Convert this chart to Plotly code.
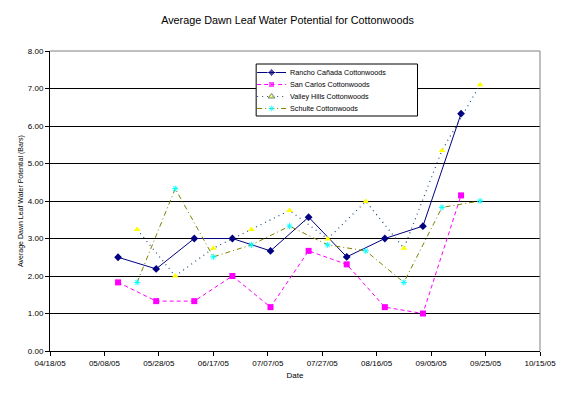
import plotly.graph_objects as go

dates_a = ["2005-05-13", "2005-05-27", "2005-06-10", "2005-06-24", "2005-07-08",
           "2005-07-22", "2005-08-05", "2005-08-19", "2005-09-02", "2005-09-16"]
dates_b = ["2005-05-20", "2005-06-03", "2005-06-17", "2005-07-01", "2005-07-15",
           "2005-07-29", "2005-08-12", "2005-08-26", "2005-09-09", "2005-09-23"]

rancho = [2.50, 2.19, 3.00, 3.00, 2.67, 3.57, 2.51, 3.00, 3.33, 6.33]
san_carlos = [1.83, 1.33, 1.33, 2.00, 1.17, 2.67, 2.31, 1.17, 1.00, 4.15]
valley_hills = [3.24, 2.00, 2.74, 3.24, 3.75, 2.99, 3.99, 2.74, 5.35, 7.10]
schulte = [1.83, 4.33, 2.51, 2.83, 3.33, 2.83, 2.67, 1.83, 3.83, 4.00]

series_names = ["Rancho Cañada Cottonwoods", "San Carlos Cottonwoods",
                "Valley Hills Cottonwoods", "Schulte Cottonwoods"]

y_ticks = [0, 1, 2, 3, 4, 5, 6, 7, 8]
y_tick_labels = ["0.00", "1.00", "2.00", "3.00", "4.00", "5.00", "6.00", "7.00", "8.00"]

FONT = "Liberation Sans, Arial, sans-serif"

styles = [
    dict(line=dict(color="#000080", width=1),
         marker=dict(symbol="diamond", size=6, color="#000080")),
    dict(line=dict(color="#FF00FF", width=1, dash="4px,3px"),
         marker=dict(symbol="square", size=6, color="#FF00FF")),
    dict(line=dict(color="#1F4E79", width=1.2, dash="1px,4px"),
         marker=dict(symbol="triangle-up", size=6, color="#FFFF00")),
    dict(line=dict(color="#808000", width=1, dash="5px,3px,1px,3px"),
         marker=dict(symbol="asterisk-open", size=5, color="#00FFFF",
                     line=dict(color="#00FFFF", width=1))),
]
xs = [dates_a, dates_a, dates_b, dates_b]
ys = [rancho, san_carlos, valley_hills, schulte]

fig = go.Figure()
for name, x, y, st in zip(series_names, xs, ys, styles):
    fig.add_trace(go.Scatter(x=x, y=y, name=name, mode="lines+markers",
                             line=st["line"], marker=st["marker"], showlegend=False))

# Compact legend (Excel-like) drawn on a hidden overlay axis in page-pixel units
PX0, PX1, PY0, PY1 = 48, 540, 351, 51          # plot-area edges on the page
leg_left, leg_right, leg_top, leg_bottom = 255, 417, 64, 116
row_y = [72.5, 84.5, 96.5, 108.5]
fig.add_trace(go.Scatter(
    x=[leg_left, leg_right, leg_right, leg_left, leg_left],
    y=[leg_top, leg_top, leg_bottom, leg_bottom, leg_top],
    mode="lines", fill="toself", fillcolor="white",
    line=dict(color="black", width=1), xaxis="x2", yaxis="y2",
    showlegend=False, hoverinfo="skip"))
for name, st, ry in zip(series_names, styles, row_y):
    fig.add_trace(go.Scatter(
        x=[256, 270.5, 285], y=[ry, ry, ry], mode="lines+markers",
        line=st["line"], marker=dict(st["marker"], size=[0, st["marker"]["size"], 0]),
        xaxis="x2", yaxis="y2", showlegend=False, hoverinfo="skip"))
    fig.add_annotation(x=287, y=ry, xref="x2", yref="y2", text=name, showarrow=False,
                       xanchor="left", yanchor="middle",
                       font=dict(family=FONT, size=7.2, color="black"))

# page has an 8px body margin: figure is shifted by 8px, so compensate
fig.update_layout(
    width=567, height=386,
    margin=dict(l=40, r=35, t=43, b=43),
    paper_bgcolor="white", plot_bgcolor="white",
    font=dict(family=FONT, size=7, color="black"),
    title=dict(text="Average Dawn Leaf Water Potential for Cottonwoods",
               x=(287.5 - 8) / 567, xref="container", xanchor="center",
               y=1 - 12 / 386, yref="container", yanchor="middle",
               font=dict(family=FONT, size=10.8, color="black")),
    showlegend=False,
    xaxis2=dict(overlaying="x", range=[PX0, PX1], visible=False, fixedrange=True),
    yaxis2=dict(overlaying="y", range=[PY0, PY1], visible=False, fixedrange=True),
)
fig.layout.xaxis.update(
    type="date", range=["2005-04-18", "2005-10-15"],
    tick0="2005-04-18", dtick=20 * 86400000, tickformat="%m/%d/%y",
    showgrid=False, showline=True, linecolor="black", linewidth=1,
    ticks="outside", ticklen=4, tickcolor="black",
    tickfont=dict(family=FONT, size=8),
    title=dict(text="Date", font=dict(family=FONT, size=8), standoff=5),
    zeroline=False, automargin=True)
fig.layout.yaxis.update(
    range=[0, 8], tickvals=y_ticks, ticktext=y_tick_labels,
    showgrid=True, gridcolor="black", gridwidth=1,
    showline=True, linecolor="black", linewidth=1,
    ticks="outside", ticklen=4, tickcolor="black",
    tickfont=dict(family=FONT, size=8),
    title=dict(text="Average Dawn Leaf Water Potential (Bars)",
               font=dict(family=FONT, size=7), standoff=3),
    zeroline=False, automargin=True)
# grey frame on top and right like the original plot area border
fig.add_shape(type="line", xref="paper", yref="paper", x0=0, x1=1, y0=1, y1=1,
              line=dict(color="#808080", width=1))
fig.add_shape(type="line", xref="paper", yref="paper", x0=1, x1=1, y0=0, y1=1,
              line=dict(color="#808080", width=1))

fig.write_html("out.html")
